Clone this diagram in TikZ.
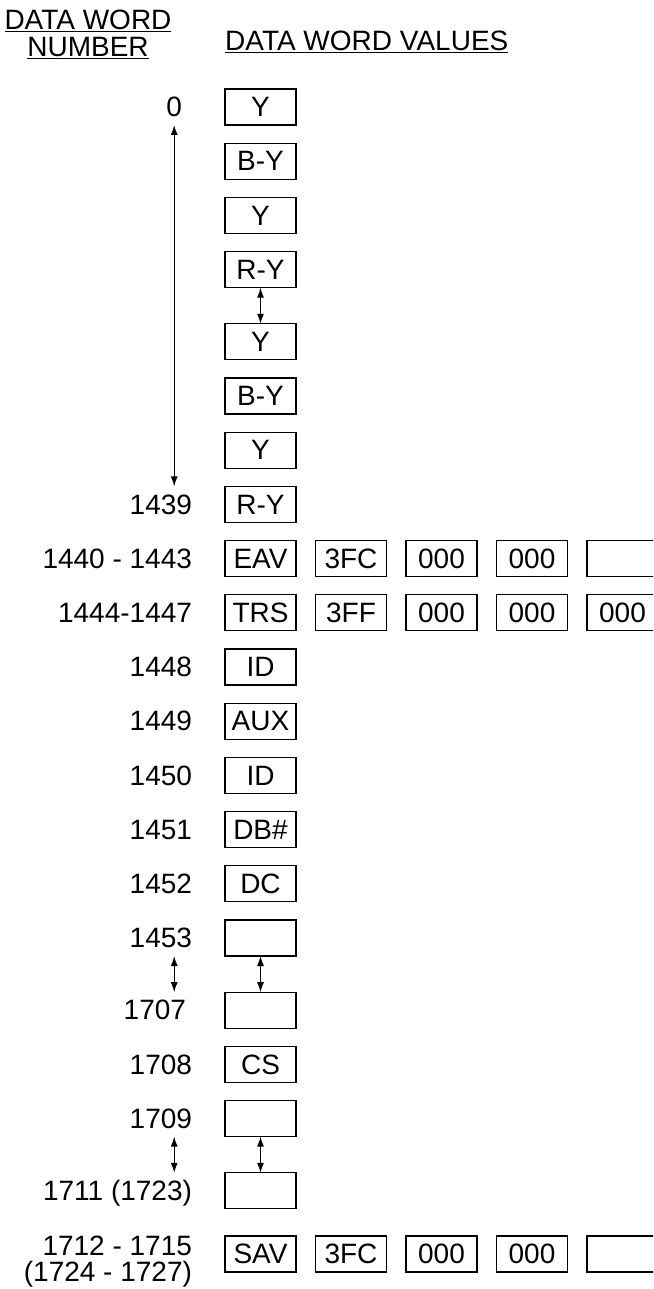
\documentclass[tikz,border=0pt]{standalone}
\usepackage{fontspec}
\setmainfont{Liberation Sans}
\usetikzlibrary{arrows.meta,positioning}

\newcommand{\wordfont}{\fontsize{28}{27}\selectfont}

\begin{document}
\begin{tikzpicture}[
    x=1pt, y=-1pt,
    >={Latex[length=10pt,width=7pt]},
    node distance=18.2pt and 19.5pt,
    word/.style={draw, line width=1.3pt, outer sep=0pt, minimum width=71pt, minimum height=36pt, inner sep=0pt, font=\wordfont},
    num/.style={inner sep=0pt, outer sep=0pt, text depth=0pt, font=\wordfont},
    head/.style={inner sep=0pt, align=center, font=\wordfont},
    span/.style={<->, line width=1.2pt}
]
    \useasboundingbox (0,0) rectangle (653,1289);
    \clip (0,0) rectangle (653,1289);

    \node[head] (hnum) at (88,34) {\underline{DATA WORD}\\\underline{NUMBER}};
    \node[head, anchor=west] (hval) at (225,42) {\underline{DATA WORD VALUES}};

    % active video words
    \node[word] (y1) at (260.5,107) {Y};
    \node[word, below=of y1] (by1) {B-Y};
    \node[word, below=of by1] (y2) {Y};
    \node[word, below=of y2] (ry1) {R-Y};
    \node[word, below=36.2pt of ry1] (y3) {Y};
    \node[word, below=of y3] (by2) {B-Y};
    \node[word, below=of by2] (y4) {Y};
    \node[word, below=of y4] (ry2) {R-Y};

    % EAV / TRS
    \node[word, below=of ry2] (eav) {EAV};
    \node[word, right=of eav] (eav2) {3FC};
    \node[word, right=of eav2] (eav3) {000};
    \node[word, right=of eav3] (eav4) {000};
    \node[word, right=of eav4] (eav5) {};
    \node[word, below=of eav] (trs) {TRS};
    \node[word, right=of trs] (trs2) {3FF};
    \node[word, right=of trs2] (trs3) {000};
    \node[word, right=of trs3] (trs4) {000};
    \node[word, right=of trs4] (trs5) {000};

    % ancillary data
    \node[word, below=of trs] (id1) {ID};
    \node[word, below=of id1] (aux) {AUX};
    \node[word, below=of aux] (id2) {ID};
    \node[word, below=of id2] (dbn) {DB\#};
    \node[word, below=of dbn] (dc) {DC};
    \node[word, below=of dc] (anc1) {};
    \node[word, below=36.2pt of anc1] (anc2) {};
    \node[word, below=of anc2] (cs) {CS};
    \node[word, below=of cs] (cks1) {};
    \node[word, below=36.2pt of cks1] (cks2) {};

    % SAV
    \node[word, below=27.2pt of cks2] (sav) {SAV};
    \node[word, right=of sav] (sav2) {3FC};
    \node[word, right=of sav2] (sav3) {000};
    \node[word, right=of sav3] (sav4) {000};
    \node[word, right=of sav4] (sav5) {};

    % word numbers
    \node[num, left=43pt of y1] (l0) {0};
    \node[num, left=33pt of ry2] (l1439) {1439};
    \node[num, left=33pt of eav] (l1440) {1440 - 1443};
    \node[num, left=33pt of trs] (l1444) {1444-1447};
    \node[num, left=33pt of id1] (l1448) {1448};
    \node[num, left=33pt of aux] (l1449) {1449};
    \node[num, left=33pt of id2] (l1450) {1450};
    \node[num, left=33pt of dbn] (l1451) {1451};
    \node[num, left=33pt of dc] (l1452) {1452};
    \node[num, left=33pt of anc1] (l1453) {1453};
    \node[num, left=39pt of anc2] (l1707) {1707};
    \node[num, left=33pt of cs] (l1708) {1708};
    \node[num, left=33pt of cks1] (l1709) {1709};
    \node[num, left=33pt of cks2] (l1711) {1711 (1723)};
    \node[num, align=right, anchor=north east] (l1712) at ([xshift=-33pt, yshift=18pt]sav.west) {1712 - 1715\\[-1pt](1724 - 1727)};

    \draw[span] (ry1) -- (y3);
    \draw[span] (anc1) -- (anc2);
    \draw[span] (cks1) -- (cks2);
    \draw[span] (l0.south |- y1.south) -- (l0.south |- ry2.north);
    \draw[span] (l0.south |- anc1.south) -- (l0.south |- anc2.north);
    \draw[span] (l0.south |- cks1.south) -- (l0.south |- cks2.north);
\end{tikzpicture}
\end{document}
